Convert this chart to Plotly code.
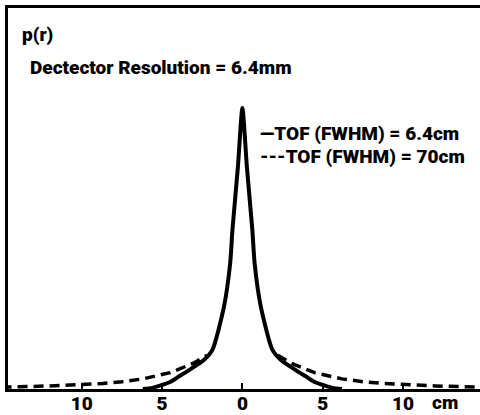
import plotly.graph_objects as go

# Solid curve: TOF (FWHM) = 6.4cm  (half profile, mirrored)
solid_r = [0.0, 0.28, 0.62, 0.76, 1.15, 1.87, 2.4, 3.3, 4.0, 4.5, 5.6, 6.2]
solid_p = [1.0, 0.79, 0.566, 0.448, 0.292, 0.139, 0.103, 0.068, 0.043, 0.025, 0.004, 0.0]

# Dashed curve: TOF (FWHM) = 70cm (outer tails, mirrored)
dash_r = [2.2, 3.0, 4.5, 6.2, 7.5, 8.7, 12.0, 15.0]
dash_p = [0.12, 0.093, 0.058, 0.036, 0.026, 0.02, 0.011, 0.006]

tick_vals = [-10, -5, 0, 5, 10]
tick_text = ["10", "5", "0", "5", "10"]

FONT = "Roboto, Liberation Sans, sans-serif"

sx = [-v for v in solid_r[::-1]] + solid_r[1:]
sy = solid_p[::-1] + solid_p[1:]
dx = [-v for v in dash_r[::-1]] + [None] + dash_r
dy = dash_p[::-1] + [None] + dash_p

fig = go.Figure()
fig.add_trace(go.Scatter(x=dx, y=dy, mode="lines",
                         line=dict(color="black", width=3.5, dash="10px,6px"),
                         connectgaps=False, hoverinfo="skip"))
fig.add_trace(go.Scatter(x=sx, y=sy, mode="lines",
                         line=dict(color="black", width=4, shape="spline", smoothing=0.6),
                         hoverinfo="skip"))

tf = dict(family=FONT, size=19, color="black", weight=900)

fig.update_layout(
    width=480, height=415,
    margin=dict(l=8, r=0, t=8, b=26),
    paper_bgcolor="white", plot_bgcolor="white",
    showlegend=False,
    font=tf,
    xaxis=dict(range=[-14.6, 14.8], showgrid=False, zeroline=False,
               showline=True, linecolor="black", linewidth=3, mirror=True,
               ticks="inside", ticklen=6, tickwidth=2, tickcolor="black",
               tickvals=tick_vals, ticktext=tick_text, ticklabelstandoff=-5,
               tickfont=tf),
    yaxis=dict(range=[0, 1.356], showgrid=False, zeroline=False,
               showline=True, linecolor="black", linewidth=3,
               showticklabels=False, ticks=""),
)

ann = dict(xref="paper", yref="paper", showarrow=False, xanchor="left", yanchor="middle",
           font=tf)
fig.add_annotation(x=12/472, y=1-(34-8)/381, text="p(r)", **ann)
fig.add_annotation(x=20/472, y=1-(67-8)/381, text="Dectector Resolution = 6.4mm", **ann)
fig.add_annotation(x=250/472, y=1-(133-8)/381, text="\u2014TOF (FWHM) = 6.4cm", **ann)
fig.add_annotation(x=250/472, y=1-(156-8)/381, text="---TOF (FWHM) = 70cm", **ann)
fig.add_annotation(x=12.6, xref="x", y=-(402-389)/381, yref="paper", text="cm",
                   showarrow=False, xanchor="center", yanchor="middle", font=tf)

fig.write_html("out.html", config={"displayModeBar": False},
               post_script="document.body.style.margin='0';document.documentElement.style.overflow='hidden';")
